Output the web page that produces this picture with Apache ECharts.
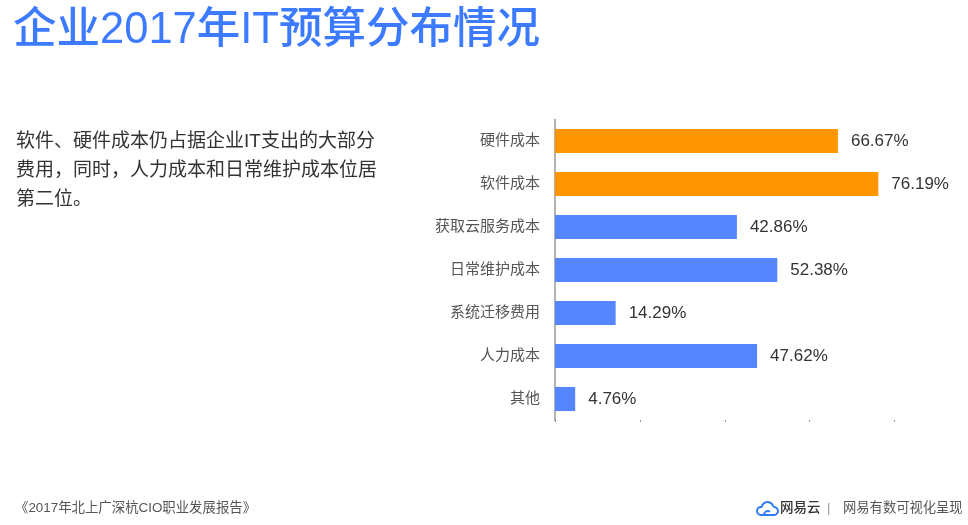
<!DOCTYPE html>
<html>
<head>
<meta charset="utf-8">
<script src="https://cdn.jsdelivr.net/npm/echarts@6/dist/echarts.min.js"></script>
<style>
html,body{margin:0;padding:0;background:#fff;}
#main{width:968px;height:525px;}
</style>
</head>
<body>
<div id="main"></div>
<script>
// ---- data ----
const categories = ['硬件成本', '软件成本', '获取云服务成本', '日常维护成本', '系统迁移费用', '人力成本', '其他'];
const values = [66.67, 76.19, 42.86, 52.38, 14.29, 47.62, 4.76];
const highlighted = [true, true, false, false, false, false, false];
const xTicks = [0, 20, 40, 60, 80];

const titleText = '企业2017年IT预算分布情况';
const descText = '软件、硬件成本仍占据企业IT支出的大部分\n费用，同时，人力成本和日常维护成本位居\n第二位。';
const sourceText = '《2017年北上广深杭CIO职业发展报告》';
const brandText = '网易云';
const brandSub = '网易有数可视化呈现';

const FONT = "'Liberation Sans', 'Noto Sans CJK SC', sans-serif";
const ORANGE = '#FF9500';
const BLUE = '#5585FF';
const LOGO = '#2F7BF5';
const D = Math.PI / 180;

const chart = echarts.init(document.getElementById('main'), null, {renderer: 'canvas'});
chart.setOption({
  backgroundColor: '#fff',
  animation: false,
  grid: {left: 555, right: 73.5, top: 119.5, bottom: 104.5, containLabel: false},
  xAxis: {
    type: 'value',
    min: xTicks[0],
    max: xTicks[xTicks.length - 1],
    interval: xTicks[1] - xTicks[0],
    axisLine: {show: false},
    axisTick: {show: true, length: 1, lineStyle: {color: '#333', width: 1}},
    axisLabel: {show: false},
    splitLine: {show: false}
  },
  yAxis: {
    type: 'category',
    data: categories,
    inverse: true,
    axisLine: {show: true, lineStyle: {color: '#999', width: 1.5}},
    axisTick: {show: false},
    axisLabel: {color: '#555', fontSize: 15, fontFamily: FONT, margin: 15}
  },
  series: [{
    type: 'bar',
    data: values.map((v, i) => ({value: v, itemStyle: {color: highlighted[i] ? ORANGE : BLUE}})),
    barCategoryGap: '44%',
    label: {
      show: true,
      position: 'right',
      distance: 13,
      color: '#333',
      fontSize: 17,
      fontFamily: FONT,
      formatter: p => p.value.toFixed(2) + '%'
    }
  }],
  graphic: [
    {type: 'text', x: 13, y: 31, style: {text: titleText, fill: '#3C7BFF', font: '500 43.5px ' + FONT, verticalAlign: 'middle'}},
    {type: 'text', x: 16, y: 127, style: {text: descText, fill: '#333', font: '19px ' + FONT, lineHeight: 29}},
    {type: 'text', x: 15, y: 508.5, style: {text: sourceText, fill: '#555', font: '13.4px ' + FONT, verticalAlign: 'middle'}},
    {type: 'group', x: 755, y: 500, children: [
      {type: 'arc', shape: {cx: 6, cy: 11, r: 4, startAngle: 90 * D, endAngle: 290 * D, clockwise: true}, style: {fill: 'none', stroke: LOGO, lineWidth: 2}},
      {type: 'arc', shape: {cx: 12.5, cy: 8, r: 6, startAngle: 195 * D, endAngle: 345 * D, clockwise: true}, style: {fill: 'none', stroke: LOGO, lineWidth: 2}},
      {type: 'arc', shape: {cx: 19, cy: 11, r: 4, startAngle: -100 * D, endAngle: 90 * D, clockwise: true}, style: {fill: 'none', stroke: LOGO, lineWidth: 2}},
      {type: 'line', shape: {x1: 6, y1: 15, x2: 19, y2: 15}, style: {stroke: LOGO, lineWidth: 2}},
      {type: 'arc', shape: {cx: 13, cy: 15, r: 4, startAngle: 180 * D, endAngle: 300 * D, clockwise: true}, style: {fill: 'none', stroke: LOGO, lineWidth: 2}}
    ]},
    {type: 'text', x: 780, y: 508.5, style: {text: brandText, fill: '#333', font: '500 13.5px ' + FONT, verticalAlign: 'middle'}},
    {type: 'text', x: 827, y: 508.5, style: {text: '|', fill: '#999', font: '13px ' + FONT, verticalAlign: 'middle'}},
    {type: 'text', x: 843, y: 508.5, style: {text: brandSub, fill: '#555', font: '13.3px ' + FONT, verticalAlign: 'middle'}}
  ]
});
</script>
</body>
</html>
